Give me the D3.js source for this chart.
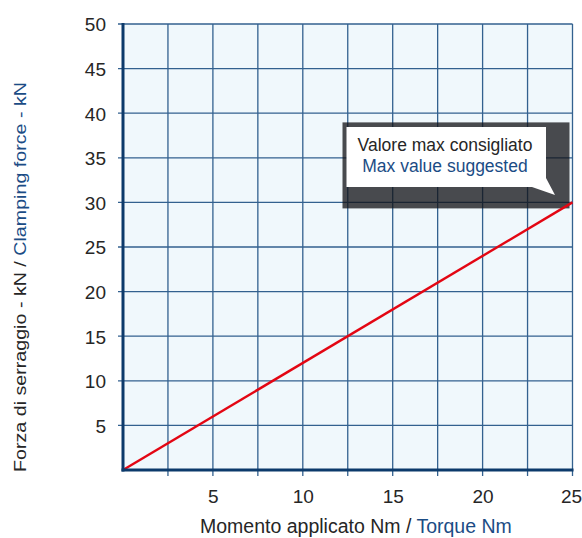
<!DOCTYPE html>
<html>
<head>
<meta charset="utf-8">
<script src="https://cdn.jsdelivr.net/npm/d3@7"></script>
<style>
  html, body { margin: 0; padding: 0; background: #ffffff; }
  svg { display: block; }
  text { font-family: "Liberation Sans", Arial, Helvetica, sans-serif; }
</style>
</head>
<body>
<svg id="chart" width="582" height="538"></svg>
<script>
// ---- data ----
const torque = [0, 25];          // Nm
const force = [0, 30];           // kN
const xTickLabels = [5, 10, 15, 20, 25];
const xGridValues = [2.5, 5, 7.5, 10, 12.5, 15, 17.5, 20, 22.5, 25];
const yTickLabels = [5, 10, 15, 20, 25, 30, 35, 40, 45, 50];
const maxPoint = [25, 30];
const noteLines = ["Valore max consigliato", "Max value suggested"];
const xTitleParts = ["Momento applicato Nm / ", "Torque Nm"];
const yTitleParts = ["Forza di serraggio - kN / ", "Clamping force - kN"];

// ---- layout ----
const pLeft = 123, pRight = 572.5, pTop = 24, pBottom = 470;
const svg = d3.select("#chart");
const x = d3.scaleLinear().domain([0, 25]).range([pLeft, pRight]);
const y = d3.scaleLinear().domain([0, 50]).range([pBottom, pTop]);

const gridColor = "#33618f";
const axisColor = "#0c3a6b";
const textColor = "#262626";
const blueText = "#1b4c85";

// background
svg.append("rect")
  .attr("x", pLeft).attr("y", pTop)
  .attr("width", pRight - pLeft).attr("height", pBottom - pTop)
  .attr("fill", "#f0f8fc");

// vertical grid
svg.append("g").selectAll("line").data(xGridValues).join("line")
  .attr("x1", d => x(d)).attr("x2", d => x(d))
  .attr("y1", pTop).attr("y2", pBottom + 6)
  .attr("stroke", gridColor).attr("stroke-width", 1.3);

// horizontal grid
svg.append("g").selectAll("line").data(yTickLabels).join("line")
  .attr("x1", pLeft - 5).attr("x2", pRight)
  .attr("y1", d => y(d)).attr("y2", d => y(d))
  .attr("stroke", gridColor).attr("stroke-width", 1.3);

// callout (anchored to max point)
const ax = x(maxPoint[0]), ay = y(maxPoint[1]);
svg.append("rect")
  .attr("x", ax - 230).attr("y", ay - 80)
  .attr("width", 227).attr("height", 86)
  .attr("fill", "rgb(18,18,22)").attr("opacity", 0.76);

const bL = ax - 226, bR = ax - 26.5, bT = ay - 75.4, bB = ay - 15.4;
const bubble = d3.path();
bubble.moveTo(bL, bT);
bubble.lineTo(bR, bT);
bubble.lineTo(bR, bB - 9);
bubble.lineTo(ax - 17.5, ay - 7.4);
bubble.lineTo(bR - 14, bB);
bubble.lineTo(bL, bB);
bubble.closePath();
svg.append("path").attr("d", bubble.toString()).attr("fill", "#ffffff");

svg.append("g").selectAll("text").data(noteLines).join("text")
  .attr("x", ax - 127.5)
  .attr("y", (d, i) => ay - 51.4 + i * 21)
  .attr("text-anchor", "middle")
  .attr("font-size", "17.5px")
  .attr("fill", (d, i) => i === 0 ? textColor : blueText)
  .text(d => d);

// series line
const line = d3.line().x(d => x(d[0])).y(d => y(d[1]));
svg.append("path")
  .datum(torque.map((t, i) => [t, force[i]]))
  .attr("d", line)
  .attr("fill", "none")
  .attr("stroke", "#e30613")
  .attr("stroke-width", 2.4);

// axes
const xAxis = d3.axisBottom(x).tickValues(xTickLabels).tickSize(0).tickPadding(0);
const gx = svg.append("g").attr("transform", `translate(0,${pBottom})`).call(xAxis);
gx.select(".domain").remove();
gx.selectAll("text")
  .attr("font-size", "19px").attr("fill", textColor)
  .attr("font-family", "'Liberation Sans', Arial, sans-serif")
  .attr("y", 33).attr("dy", null)
  .attr("x", (d, i, n) => i === n.length - 1 ? -1.5 : 0);

const yAxis = d3.axisLeft(y).tickValues(yTickLabels).tickSize(0).tickPadding(0);
const gy = svg.append("g").attr("transform", `translate(${pLeft},0)`).call(yAxis);
gy.select(".domain").remove();
gy.selectAll("text")
  .attr("font-size", "19px").attr("fill", textColor)
  .attr("font-family", "'Liberation Sans', Arial, sans-serif")
  .attr("x", -17).attr("dy", "0.36em");

// axis lines
svg.append("line")
  .attr("x1", pLeft).attr("x2", pLeft).attr("y1", pTop - 1).attr("y2", pBottom + 1.5)
  .attr("stroke", axisColor).attr("stroke-width", 3);
svg.append("line")
  .attr("x1", pLeft - 1.5).attr("x2", pRight + 1).attr("y1", pBottom).attr("y2", pBottom)
  .attr("stroke", axisColor).attr("stroke-width", 3);

// x title
const xt = svg.append("text")
  .attr("x", 200).attr("y", 533)
  .attr("font-size", "19.5px");
xt.selectAll("tspan").data(xTitleParts).join("tspan")
  .attr("fill", (d, i) => i === 0 ? textColor : blueText)
  .text(d => d);

// y title
const yt = svg.append("text")
  .attr("transform", `translate(26,${(82 + 472) / 2}) rotate(-90)`)
  .attr("text-anchor", "middle")
  .attr("font-size", "16.5px")
  .attr("textLength", 390)
  .attr("lengthAdjust", "spacingAndGlyphs");
yt.selectAll("tspan").data(yTitleParts).join("tspan")
  .attr("fill", (d, i) => i === 0 ? textColor : blueText)
  .text(d => d);
</script>
</body>
</html>
